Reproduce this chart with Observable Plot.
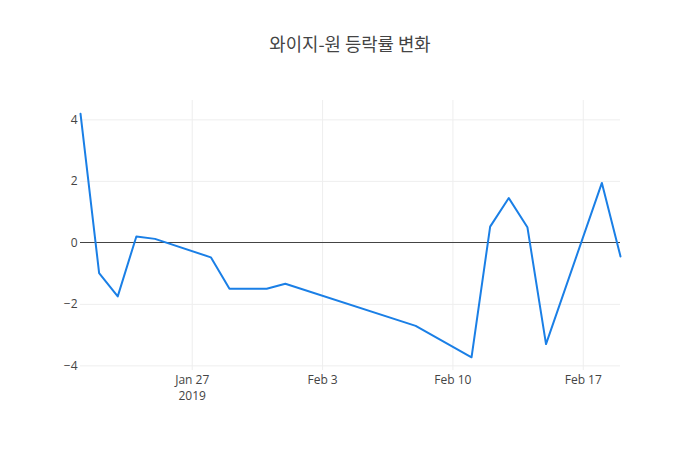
<!DOCTYPE html>
<html>
<head>
<meta charset="utf-8">
<script src="https://cdn.jsdelivr.net/npm/d3@7"></script>
<script src="https://cdn.jsdelivr.net/npm/@observablehq/plot@0.6"></script>
<style>
  body { margin: 0; background: #fff; }
  #wrap { position: relative; width: 700px; height: 450px; }
  #title { position: absolute; left: 0; top: 30px; width: 700px; text-align: center;
           font-family: "Noto Sans CJK KR", "Open Sans", sans-serif; font-size: 17.8px; color: #444; }
</style>
</head>
<body>
<div id="wrap"><div id="title">와이지-원 등락률 변화</div></div>
<script>
const dates = ["2019-01-21","2019-01-22","2019-01-23","2019-01-24","2019-01-25","2019-01-28","2019-01-29","2019-01-30","2019-01-31","2019-02-01","2019-02-08","2019-02-11","2019-02-12","2019-02-13","2019-02-14","2019-02-15","2019-02-18","2019-02-19"];
const changes = [4.2, -0.98, -1.74, 0.21, 0.13, -0.47, -1.49, -1.49, -1.49, -1.33, -2.70, -3.72, 0.53, 1.46, 0.51, -3.29, 1.95, -0.44];
const xTicks = ["2019-01-27","2019-02-03","2019-02-10","2019-02-17"];
const yTicks = [-4, -2, 0, 2, 4];

const data = dates.map((d, i) => ({date: new Date(d), value: changes[i]}));
const xTickDates = xTicks.map(d => new Date(d));
const fmt = d3.utcFormat("%b %-d");
const tickFormat = (d, i) => i === 0 ? fmt(d) + "\n" + d.getUTCFullYear() : fmt(d);

const chart = Plot.plot({
  width: 700,
  height: 450,
  marginTop: 100,
  marginBottom: 80,
  marginLeft: 80,
  marginRight: 80,
  style: {fontFamily: "'Open Sans', sans-serif", fontSize: "12px", color: "#444", background: "transparent"},
  x: {type: "utc", domain: [new Date("2019-01-21"), new Date("2019-02-19")]},
  y: {domain: [-4.15, 4.63]},
  marks: [
    Plot.ruleX(xTickDates, {stroke: "#eee", strokeOpacity: 1}),
    Plot.ruleY(yTicks.filter(v => v !== 0), {stroke: "#eee", strokeOpacity: 1}),
    Plot.ruleY([0], {stroke: "#444", strokeWidth: 1, shapeRendering: "crispEdges"}),
    Plot.line(data, {x: "date", y: "value", stroke: "#1a7fe6", strokeWidth: 2}),
    Plot.axisX(xTickDates, {tickSize: 0, tickPadding: 3, tickFormat, lineHeight: 1.28, label: null, fill: "#444", fontSize: 12}),
    Plot.axisY(yTicks, {tickSize: 0, tickPadding: 3, tickFormat: d => d < 0 ? "\u2212" + Math.abs(d) : String(d), label: null, fill: "#444", fontSize: 12})
  ]
});
document.getElementById("wrap").prepend(chart);
chart.style.position = "absolute";
chart.style.left = "0";
chart.style.top = "0";
</script>
</body>
</html>
